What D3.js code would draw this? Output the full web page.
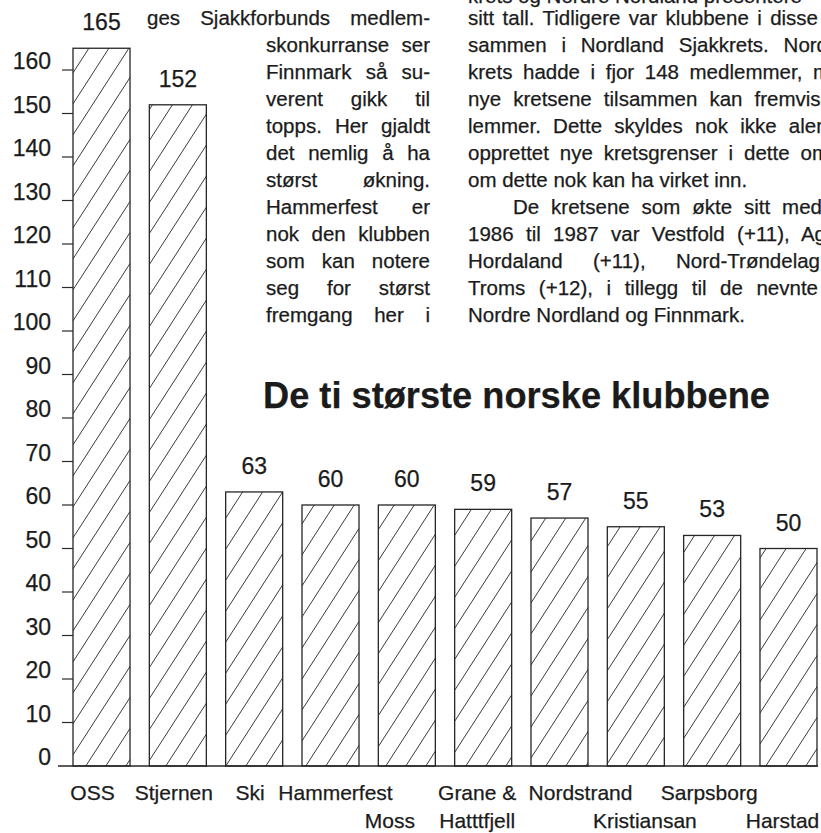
<!DOCTYPE html>
<html>
<head>
<meta charset="utf-8">
<script src="https://cdn.jsdelivr.net/npm/d3@7/dist/d3.min.js"></script>
<style>
  html, body { margin: 0; padding: 0; background: #fff; }
  svg { display: block; }
  text { font-family: "Liberation Sans", Arial, Helvetica, sans-serif; fill: #1b1b1b; stroke: #1b1b1b; stroke-width: 0.25px; }
</style>
</head>
<body>
<svg id="chart" width="821" height="833"></svg>
<script>
// ---- data ----
const categories = ["OSS", "Stjernen", "Ski", "Hammerfest", "Moss", "Grane & Hatttfjell",
                    "Nordstrand", "Kristiansan", "Sarpsborg", "Harstad"];
const members = [165, 152, 63, 60, 60, 59, 57, 55, 53, 50];
const yTicks = [0, 10, 20, 30, 40, 50, 60, 70, 80, 90, 100, 110, 120, 130, 140, 150, 160];
const title = "De ti største norske klubbene";

// article text around the chart
const leftText = ["ges Sjakkforbunds medlem-", "skonkurranse ser", "Finnmark så su-",
  "verent gikk til", "topps. Her gjaldt", "det nemlig å ha", "størst økning.",
  "Hammerfest er", "nok den klubben", "som kan notere", "seg for størst", "fremgang her i"];
const rightText = ["krets og Nordre Nordland presentere", "sitt tall. Tidligere var klubbene i disse",
  "sammen i Nordland Sjakkrets. Nord", "krets hadde i fjor 148 medlemmer, m",
  "nye kretsene tilsammen kan fremvise", "lemmer. Dette skyldes nok ikke alene",
  "opprettet nye kretsgrenser i dette om", "om dette nok kan ha virket inn.",
  "De kretsene som økte sitt med", "1986 til 1987 var Vestfold (+11), Ag",
  "Hordaland (+11), Nord-Trøndelag", "Troms (+12), i tillegg til de nevnte",
  "Nordre Nordland og Finnmark."];

// ---- layout (not data) ----
const labelRow = [0, 0, 0, 0, 1, 0, 0, 1, 0, 1];
const labelDx  = [-9, -4, -4, 5, -17, -6, 21, 9, -3, -6];
const leftJustify = [[147, 430]].concat(d3.range(11).map(() => [266, 430]));
const rightStart = [468, 468, 468, 468, 468, 468, 468, 468, 513, 468, 468, 468, 468];
const rightEnd   = [null, 818, 828, 830, 832, 839, 829, null, 822, 826, 820, 818, null];
const rightBase  = [3, 25, 52, 79, 106, 133, 160, 187, 214, 241, 268, 295, 322];

const svg = d3.select("#chart");

const x = d3.scaleBand().domain(categories).range([73, 817]).paddingInner(0.253).paddingOuter(0);
const y = d3.scaleLinear().domain([0, 160]).range([766, 70]);

// hatch pattern
const defs = svg.append("defs");
const pw = 20, ph = 31;
const pat = defs.append("pattern").attr("id", "hatch").attr("patternUnits", "userSpaceOnUse")
  .attr("width", pw).attr("height", ph);
pat.append("path")
  .attr("d", `M${-pw/4},${ph*1.25} L${pw*1.25},${-ph/4} M${-pw/4},${ph/4} L${pw/4},${-ph/4} M${pw*0.75},${ph*1.25} L${pw*1.25},${ph*0.75}`)
  .attr("stroke", "#3a3a3a").attr("stroke-width", 1).attr("fill", "none");

// article text
function justify(sel, target) {
  const node = sel.node();
  const natural = node.getComputedTextLength();
  const spaces = (sel.text().match(/ /g) || []).length;
  if (spaces > 0) sel.attr("word-spacing", ((target - natural) / spaces).toFixed(2));
}
const body = svg.append("g").attr("font-size", 20.5);
leftText.forEach((t, i) => {
  const [x0, x1] = leftJustify[i];
  const tx = body.append("text").attr("x", x0).attr("y", 25 + 27 * i).text(t);
  justify(tx, x1 - x0);
});
rightText.forEach((t, i) => {
  const tx = body.append("text").attr("x", rightStart[i]).attr("y", rightBase[i]).text(t);
  if (rightEnd[i] !== null) justify(tx, rightEnd[i] - rightStart[i]);
});

// title
svg.append("text").attr("x", 263).attr("y", 408)
  .attr("font-size", 36).attr("font-weight", "bold")
  .attr("textLength", 507).attr("lengthAdjust", "spacingAndGlyphs")
  .text(title);

// y ticks and labels
const axis = svg.append("g");
axis.selectAll("line.tick").data(yTicks.filter(d => d > 0)).join("line")
  .attr("class", "tick")
  .attr("x1", 62).attr("x2", 73)
  .attr("y1", d => y(d)).attr("y2", d => y(d))
  .attr("stroke", "#2a2a2a").attr("stroke-width", 1.2);
axis.selectAll("text").data(yTicks).join("text")
  .attr("x", 51).attr("y", d => y(d) - 1)
  .attr("text-anchor", "end").attr("font-size", 23)
  .text(d => d);

// bars
const bars = svg.append("g");
bars.selectAll("rect").data(categories).join("rect")
  .attr("x", d => x(d))
  .attr("y", (d, i) => y(members[i]))
  .attr("width", x.bandwidth())
  .attr("height", (d, i) => y(0) - y(members[i]))
  .attr("fill", "url(#hatch)")
  .attr("stroke", "#262626").attr("stroke-width", 1.3);

// baseline
svg.append("line").attr("x1", 58).attr("x2", 818).attr("y1", y(0)).attr("y2", y(0))
  .attr("stroke", "#262626").attr("stroke-width", 1.6);

// value labels
svg.append("g").selectAll("text").data(categories).join("text")
  .attr("x", d => x(d) + x.bandwidth() / 2)
  .attr("y", (d, i) => y(members[i]) - 18)
  .attr("text-anchor", "middle").attr("font-size", 23)
  .text((d, i) => members[i]);

// category labels
const cat = svg.append("g").attr("font-size", 21);
categories.forEach((c, i) => {
  const cx = x(c) + x.bandwidth() / 2 + labelDx[i];
  const parts = c === "Grane & Hatttfjell" ? ["Grane &", "Hatttfjell"] : [c];
  parts.forEach((p, k) => {
    const row = labelRow[i] + k;
    cat.append("text").attr("x", cx).attr("y", row === 0 ? 800 : 828)
      .attr("text-anchor", "middle").text(p);
  });
});
</script>
</body>
</html>
